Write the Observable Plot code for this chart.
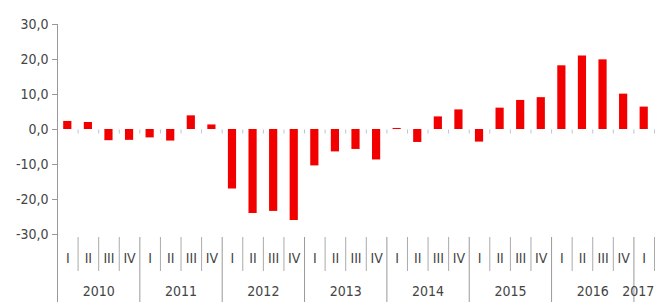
<!DOCTYPE html>
<html><head><meta charset="utf-8">
<script src="https://cdn.jsdelivr.net/npm/d3@7"></script>
<script src="https://cdn.jsdelivr.net/npm/@observablehq/plot@0.6"></script>
<style>
html,body{margin:0;padding:0;background:#fff;}
</style></head><body>
<div id="chart"></div>
<script>
const years = [2010, 2011, 2012, 2013, 2014, 2015, 2016, 2017];
const quarterNames = ["I", "II", "III", "IV"];
const values = [2.3, 2.0, -3.2, -3.1, -2.4, -3.3, 3.9, 1.3,
  -17.0, -24.0, -23.4, -26.0, -10.4, -6.4, -5.7, -8.7,
  0.3, -3.7, 3.6, 5.6, -3.6, 6.1, 8.3, 9.1,
  18.2, 21.0, 19.9, 10.1, 6.4];
const yTicks = [-30, -20, -10, 0, 10, 20, 30];

const data = values.map((v, i) => ({i, value: v, year: years[Math.floor(i / 4)], q: quarterNames[i % 4]}));
const n = data.length;
const boundaries = d3.range(0, n + 1);
const yearStarts = boundaries.filter(b => b % 4 === 0 && b < n);
const quarterSeps = boundaries.filter(b => b % 4 !== 0 || b === n);
const yearCenters = years.map(y => {
  const g = data.filter(d => d.year === y);
  return (g[0].i + g[g.length - 1].i + 1) / 2;
});
const fullYears = yearCenters.slice(0, -1);
const lastYear = yearCenters.slice(-1);
const yearLabel = d => String(years[yearCenters.indexOf(d)]);
const zeroTick = {draw(ctx) { ctx.moveTo(0, 0); ctx.lineTo(0, 4); }};
const fmt = d => d.toFixed(1).replace(".", ",");

const chart = Plot.plot({
  width: 656,
  height: 302,
  marginLeft: 57,
  marginRight: 2,
  marginTop: 24,
  marginBottom: 65,
  style: {fontFamily: "'Liberation Sans Narrow', 'Arial Narrow', 'DejaVu Sans Condensed', sans-serif", fontSize: "14px", color: "#444", background: "#fff"},
  x: {domain: [0, n], axis: null},
  y: {domain: [-30, 30], insetBottom: 3, axis: null},
  marks: [
    Plot.rectY(data, {x1: d => d.i, x2: d => d.i + 1, y: "value", insetLeft: 6.2, insetRight: 6.2, fill: "#f20000"}),
    Plot.dot(boundaries, {x: d => d, y: () => 0, symbol: zeroTick, r: 3, stroke: "#b9c6d2", strokeWidth: 1}),
    Plot.axisY({ticks: yTicks, tickFormat: fmt, tickSize: 5, tickPadding: 4, stroke: "#999", fill: "#444", label: null}),
    Plot.ruleX([0], {stroke: "#999"}),
    Plot.axisX({ticks: quarterSeps, tickSize: 34, tickFormat: () => "", stroke: "#aaa", label: null}),
    Plot.axisX({ticks: yearStarts, tickSize: 65, tickFormat: () => "", stroke: "#999", label: null}),
    Plot.axisX({ticks: data.map(d => d.i + 0.5), tickSize: 0, tickPadding: 16, tickFormat: d => data[Math.floor(d)].q, fill: "#444", label: null}),
    Plot.axisX({ticks: fullYears, tickSize: 0, tickPadding: 49, tickFormat: yearLabel, fill: "#444", label: null}),
    Plot.axisX({ticks: lastYear, tickSize: 0, tickPadding: 49, tickFormat: yearLabel, fill: "#444", dx: -6, label: null})
  ]
});
document.getElementById("chart").appendChild(chart);
</script>
</body></html>
